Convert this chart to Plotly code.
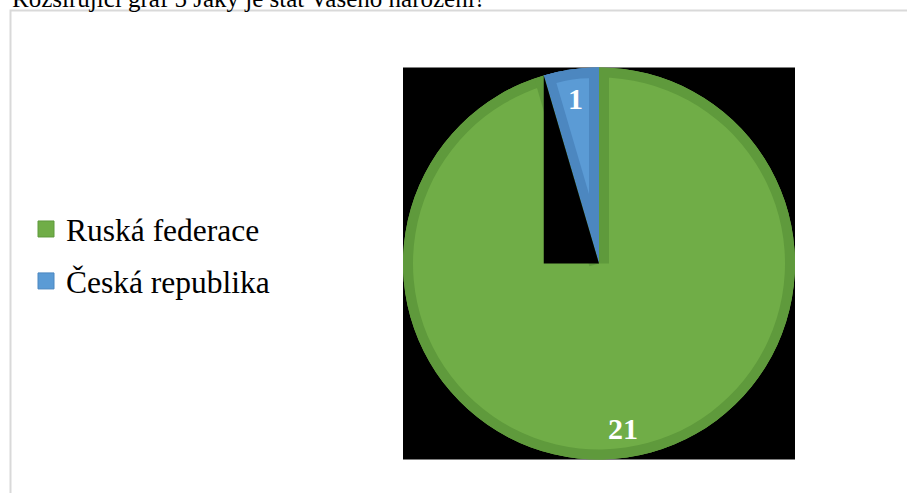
import math
import plotly.graph_objects as go

# Survey answers: country of birth
categories = ["Ruská federace", "Česká republika"]
counts = [21, 1]
title_text = "Rozšiřující graf 5 Jaký je stát Vašeho narození?"

fill_colors = ["#70AD47", "#5B9BD5"]
edge_colors = ["#5F9A3C", "#4C87C0"]
CLEAR = "rgba(0,0,0,0)"

W, H = 907, 493
FONT = "Liberation Serif, Times New Roman, serif"

# pie placement in pixels
cx, cy, R = 599.0, 263.5, 196.0
bevel = 10.0  # width of the darker inner edge of each slice

total = sum(counts)
theta = 2 * math.pi * counts[-1] / total   # angle of the small slice


def px_x(x):
    return x / W


def px_y(y):
    return 1 - y / H


def domain_at(x, y, half):
    return dict(x=[px_x(x - half), px_x(x + half)], y=[px_y(y + half), px_y(y - half)])


pie_common = dict(labels=categories, values=counts, sort=False, direction="clockwise",
                  rotation=0, textinfo="none", hoverinfo="label+value", showlegend=False)

fig = go.Figure()

# light slice bodies
fig.add_trace(go.Pie(marker=dict(colors=fill_colors), domain=domain_at(cx, cy, R), **pie_common))

# darker rim along the outer edge
fig.add_trace(go.Pie(marker=dict(colors=edge_colors), hole=(R - bevel) / R,
                     domain=domain_at(cx, cy, R), **pie_common))

# small slice: darker edge, then its lighter inset body
fig.add_trace(go.Pie(marker=dict(colors=[CLEAR, edge_colors[1]]),
                     domain=domain_at(cx, cy, R), **pie_common))
shift = bevel / math.sin(theta / 2)
r_in = R - bevel - shift
fig.add_trace(go.Pie(marker=dict(colors=[CLEAR, fill_colors[1]]), pull=[0, shift / r_in],
                     domain=domain_at(cx, cy, R - bevel), **pie_common))

# legend entries
for name, fc, ec in zip(categories, fill_colors, edge_colors):
    fig.add_trace(go.Scatter(x=[None], y=[None], mode="markers", name=name,
                             legendgroup=name, showlegend=True, hoverinfo="skip",
                             marker=dict(symbol="square", size=16, color=fc,
                                         line=dict(color=ec, width=1))))

shapes = []
# black chart area behind the pie
shapes.append(dict(type="rect", xref="paper", yref="paper", layer="below",
                   x0=px_x(cx - R), x1=px_x(cx + R), y0=px_y(cy + R), y1=px_y(cy - R),
                   fillcolor="black", line=dict(width=0)))

# darker edge of the large slice along its two straight sides
rim_y = cy - math.sqrt(R ** 2 - bevel ** 2) + 0.5
shapes.append(dict(type="rect", xref="paper", yref="paper", layer="above",
                   x0=px_x(cx), x1=px_x(cx + bevel), y0=px_y(cy), y1=px_y(rim_y),
                   fillcolor=edge_colors[0], line=dict(width=0)))
tip_x = cx - R * math.sin(theta)
tip_y = cy - R * math.cos(theta)
nx, ny = -math.cos(theta), math.sin(theta)
ti_x = cx - (R - 3) * math.sin(theta)
ti_y = cy - (R - 3) * math.cos(theta)
band = "M {} {} L {} {} L {} {} L {} {} Z".format(
    px_x(cx), px_y(cy), px_x(ti_x), px_y(ti_y),
    px_x(ti_x + bevel * nx), px_y(ti_y + bevel * ny),
    px_x(cx + bevel * nx), px_y(cy + bevel * ny))
shapes.append(dict(type="path", xref="paper", yref="paper", layer="above",
                   path=band, fillcolor=edge_colors[0], line=dict(width=0)))

# black patch beside the small slice
tri = "M {} {} L {} {} L {} {} Z".format(
    px_x(tip_x), px_y(tip_y), px_x(tip_x), px_y(cy), px_x(cx), px_y(cy))
shapes.append(dict(type="path", xref="paper", yref="paper", layer="above",
                   path=tri, fillcolor="black", line=dict(width=0)))

# page frame
shapes.append(dict(type="rect", xref="paper", yref="paper", layer="below",
                   x0=px_x(10.5), x1=1.05, y0=-0.05, y1=px_y(10.5),
                   fillcolor=CLEAR, line=dict(color="#D9D9D9", width=2)))

annotations = []
# value labels at the middle angle of each slice
start = 0.0
for v in counts:
    ang = 2 * math.pi * (start + v / 2) / total
    d = 0.85 * R
    annotations.append(dict(x=px_x(cx + d * math.sin(ang)), y=px_y(cy - d * math.cos(ang)),
                            xref="paper", yref="paper",
                            text="<b>{}</b>".format(v), showarrow=False,
                            xanchor="center", yanchor="middle",
                            font=dict(family=FONT, size=30, color="white")))
    start += v

annotations.append(dict(x=px_x(10), y=px_y(14), xref="paper", yref="paper",
                        text=title_text, showarrow=False,
                        xanchor="left", yanchor="bottom",
                        font=dict(family=FONT, size=25, color="black")))

fig.update_layout(
    width=W, height=H, autosize=False,
    margin=dict(l=0, r=0, t=0, b=0),
    paper_bgcolor="white", plot_bgcolor=CLEAR,
    xaxis=dict(visible=False, range=[0, 1]),
    yaxis=dict(visible=False, range=[0, 1]),
    shapes=shapes,
    annotations=annotations,
    legend=dict(x=px_x(26), y=px_y(255), xanchor="left", yanchor="middle",
                font=dict(family=FONT, size=31.5, color="black"),
                bgcolor=CLEAR, itemsizing="trace", tracegroupgap=8),
)

fig.write_html("out.html")
